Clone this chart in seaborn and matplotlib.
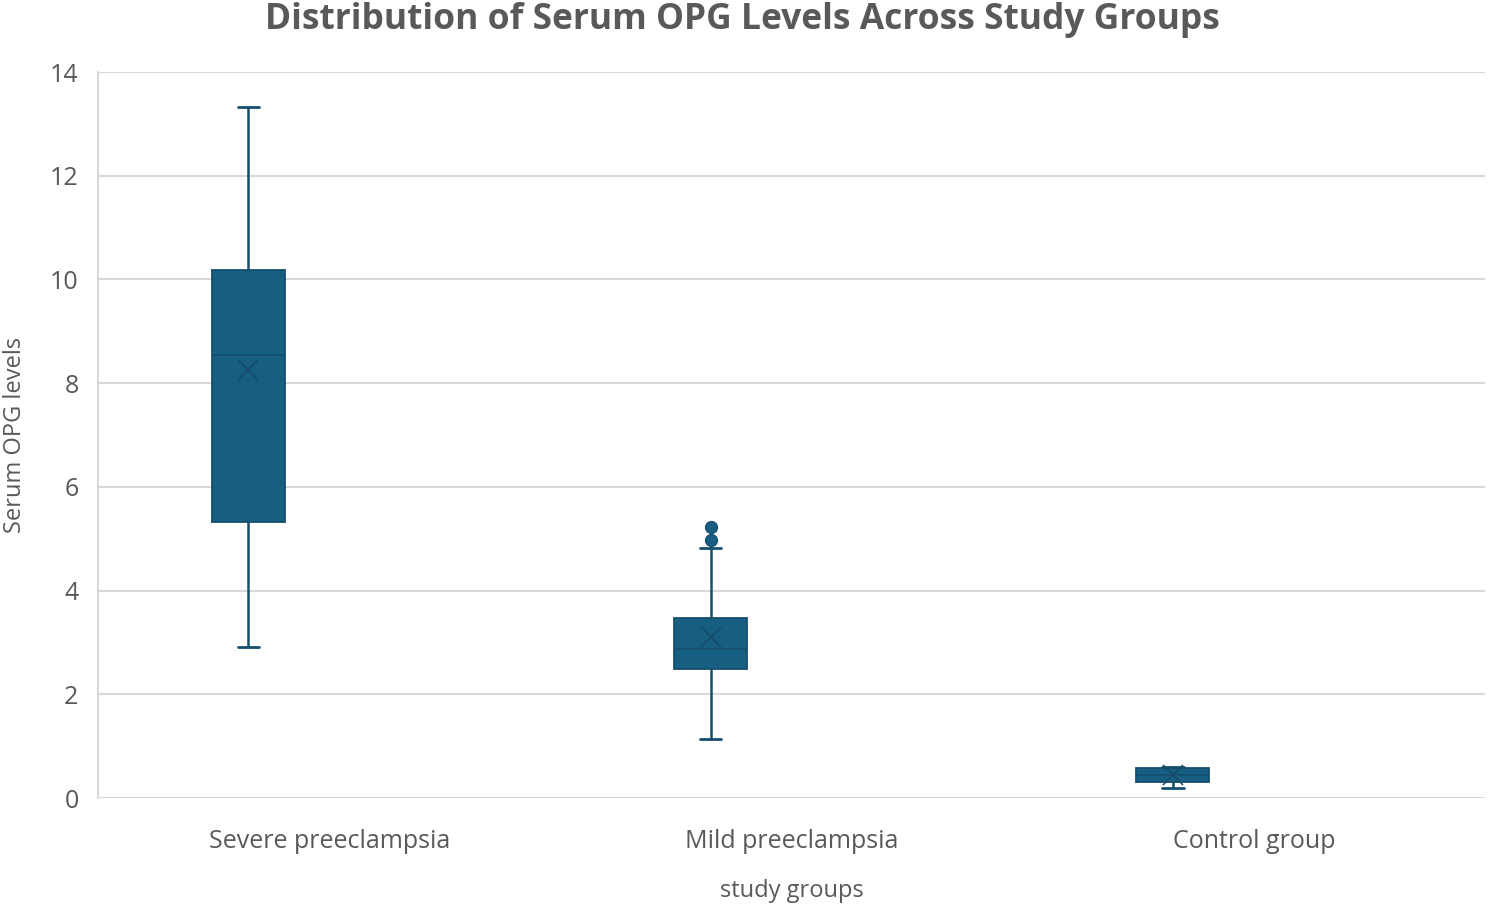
import numpy as np
import seaborn as sns
import matplotlib.pyplot as plt

# summary statistics
groups = ["Severe preeclampsia", "Mild preeclampsia", "Control group"]
whislo = [2.91, 1.14, 0.20]
q1 = [5.32, 2.49, 0.31]
med = [8.54, 2.87, 0.45]
q3 = [10.18, 3.47, 0.57]
whishi = [13.32, 4.82, 0.60]
means = [8.25, 3.10, 0.45]
fliers = [[], [4.97, 5.23], []]

box_color = "#175e83"
edge_color = "#164f6e"
text_color = "#595959"

sns.set_theme(style="whitegrid")
plt.rcParams['font.family'] = ['Open Sans', 'DejaVu Sans']

fig = plt.figure(figsize=(14.89, 9.08), dpi=100)
ax = fig.add_axes([0.0658, 0.1211, 0.9315, 0.7996])

stats = []
for i, g in enumerate(groups):
    stats.append(dict(label=g, whislo=whislo[i], q1=q1[i], med=med[i], q3=q3[i],
                      whishi=whishi[i], mean=means[i], fliers=fliers[i]))

pos = np.arange(len(groups)) - 0.175
ax.bxp(stats, positions=pos, widths=0.158, capwidths=0.046, patch_artist=True,
       showmeans=True, showfliers=True,
       boxprops=dict(facecolor=box_color, edgecolor=edge_color, linewidth=1.3),
       medianprops=dict(color=edge_color, linewidth=1.3),
       whiskerprops=dict(color=edge_color, linewidth=1.8),
       capprops=dict(color=edge_color, linewidth=2.0),
       meanprops=dict(marker="x", markeredgecolor="#164a66", markersize=14, markeredgewidth=1.1),
       flierprops=dict(marker="o", markerfacecolor=box_color, markeredgecolor=edge_color, markersize=8.5))

ax.set_xlim(-0.5, 2.5)
ax.set_xticks(np.arange(len(groups)))
ax.set_xticklabels(groups)
ax.set_ylim(0, 14)
ax.set_yticks(np.arange(0, 15, 2))

ax.grid(axis="y", color="#d9d9d9", linewidth=1.5)
ax.grid(axis="x", visible=False)
for s in ["top", "right", "bottom"]:
    ax.spines[s].set_visible(False)
ax.spines["left"].set_color("#d9d9d9")
ax.spines["left"].set_linewidth(1.5)

ax.tick_params(axis="y", labelsize=18, labelcolor=text_color, pad=14, length=0)
ax.tick_params(axis="x", labelsize=18, labelcolor=text_color, pad=22, length=0)

ax.set_ylabel("Serum OPG levels", fontsize=17, color=text_color)
ax.yaxis.set_label_coords(-0.0595, 0.5)
ax.yaxis.label.set_va("center")
ax.set_xlabel("study groups", fontsize=17, color=text_color)
ax.xaxis.set_label_coords(0.5, -0.128)
ax.xaxis.label.set_va("center")

fig.text(0.4985, 1 - 20 / 908, "Distribution of Serum OPG Levels Across Study Groups",
         fontsize=25.5, fontweight="bold", color=text_color, ha="center", va="center")

fig.savefig("out.png", dpi=100)
